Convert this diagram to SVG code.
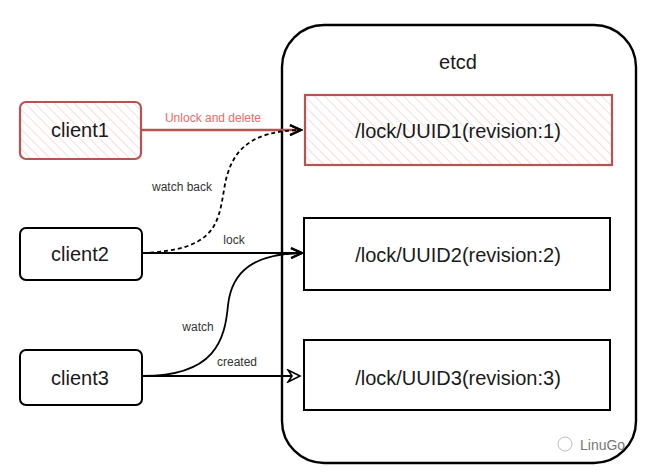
<svg xmlns="http://www.w3.org/2000/svg" width="654" height="473" viewBox="0 0 654 473">
<style>
.box{fill:#fff;stroke:#000;stroke-width:2}
.red{fill:url(#hatch);stroke:#b85450;stroke-width:2.2}
.t{font-family:"Liberation Sans",Arial,sans-serif;fill:#1a1a1a;text-anchor:middle;dominant-baseline:central;font-size:20px}
.lbl{font-family:"Liberation Sans",Arial,sans-serif;font-size:12px;fill:#333;text-anchor:middle}
.edge{fill:none;stroke:#000;stroke-width:1.8}
</style>
<defs>
<pattern id="hatch" width="7" height="7" patternUnits="userSpaceOnUse" patternTransform="rotate(-45)">
<rect width="7" height="7" fill="#fff"/>
<line x1="0" y1="0" x2="0" y2="7" stroke="#f8cecc" stroke-width="1.4"/>
</pattern>
<marker id="open" markerWidth="14" markerHeight="12" refX="12" refY="6" orient="auto" markerUnits="userSpaceOnUse">
<path d="M1,1 L12,6 L1,11" fill="none" stroke="#000" stroke-width="2"/>
</marker>
<marker id="hollow" markerWidth="16" markerHeight="14" refX="14" refY="7" orient="auto" markerUnits="userSpaceOnUse">
<path d="M2,1 L14,7 L2,13 L6,7 Z" fill="#fff" stroke="#000" stroke-width="1.6"/>
</marker>
</defs>
<rect width="654" height="473" fill="#fff"/>

<g id="etcd">
<rect x="282" y="25" width="354" height="438" rx="42" ry="42" fill="none" stroke="#000" stroke-width="2.4"/>
<text class="t" x="458" y="62">etcd</text>
</g>

<g id="uuid1">
<rect class="red" x="305" y="95" width="307" height="70"/>
<text class="t" x="458" y="131">/lock/UUID1(revision:1)</text>
</g>
<g id="uuid2">
<rect class="box" x="304" y="218" width="306" height="72"/>
<text class="t" x="458" y="255">/lock/UUID2(revision:2)</text>
</g>
<g id="uuid3">
<rect class="box" x="304" y="340" width="306" height="70"/>
<text class="t" x="458" y="378">/lock/UUID3(revision:3)</text>
</g>

<g id="client1">
<rect class="red" x="20" y="102" width="121" height="57" rx="6"/>
<text class="t" x="80" y="130">client1</text>
</g>
<g id="client2">
<rect class="box" x="20" y="228" width="122" height="52" rx="6"/>
<text class="t" x="80" y="254">client2</text>
</g>
<g id="client3">
<rect class="box" x="20" y="350" width="122" height="55" rx="6"/>
<text class="t" x="80" y="378">client3</text>
</g>

<g id="connectors">
<path d="M142,130 L301,130" fill="none" stroke="#b85450" stroke-width="2.4" marker-end="url(#open)"/>
<text class="lbl" x="213" y="122" style="fill:#ea6b66">Unlock and delete</text>
<path class="edge" d="M143,253 C 215,250 218,225 224,190 C 230,150 250,131 301,130" stroke-dasharray="4 3" marker-end="url(#open)"/>
<text class="lbl" x="182" y="191">watch back</text>
<path class="edge" d="M143,253 L302,253" marker-end="url(#open)"/>
<text class="lbl" x="234" y="244">lock</text>
<path class="edge" d="M143,376 C 215,376 225,340 228,305 C 232,270 255,254 302,253" marker-end="url(#open)"/>
<text class="lbl" x="198" y="331">watch</text>
<path class="edge" d="M143,376 L300,376" marker-end="url(#hollow)"/>
<text class="lbl" x="237" y="366">created</text>
</g>

<g id="watermark">
<circle cx="565" cy="444" r="7" fill="none" stroke="#bbb" stroke-width="1"/>
<text x="580" y="450" font-family="'Liberation Sans',Arial,sans-serif" font-size="14" fill="#777">LinuGo</text>
</g>
</svg>
